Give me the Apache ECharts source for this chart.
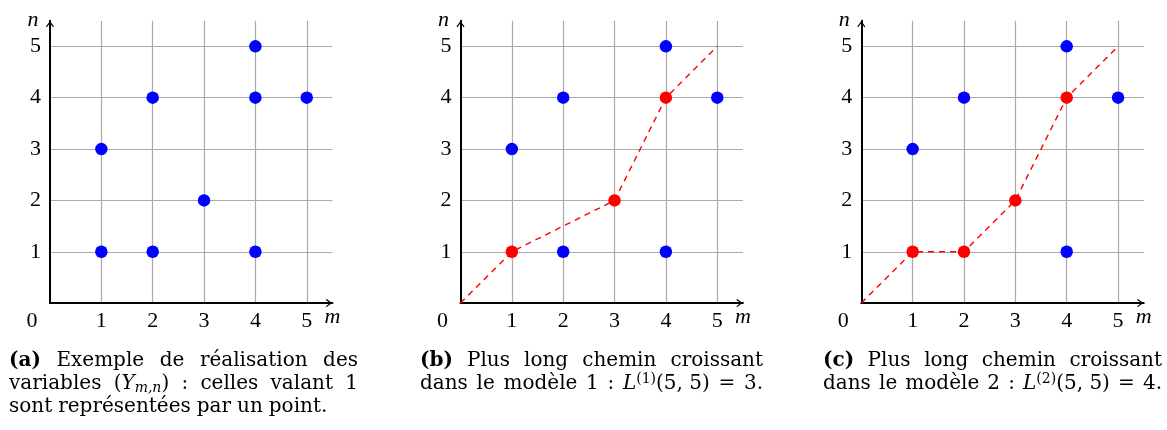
<!DOCTYPE html>
<html>
<head>
<meta charset="utf-8">
<script src="https://cdn.jsdelivr.net/npm/echarts@6/dist/echarts.min.js"></script>
<style>
html,body{margin:0;padding:0;background:#fff;}
#chart{width:1167px;height:430px;}
</style>
</head>
<body>
<div id="chart"></div>
<script>
// ---------- data ----------
const tickValues = [0, 1, 2, 3, 4, 5];
const axisMax = 5.5;
// points where Y_{m,n} = 1
const pointsM = [1, 1, 2, 2, 3, 4, 4, 4, 5];
const pointsN = [1, 3, 1, 4, 2, 1, 4, 5, 4];
// longest increasing path, model 1 (panel b)
const pathB_M = [0, 1, 3, 4, 5];
const pathB_N = [0, 1, 2, 4, 5];
// longest increasing path, model 2 (panel c)
const pathC_M = [0, 1, 2, 3, 4, 5];
const pathC_N = [0, 1, 1, 2, 4, 5];
const axisNameX = 'm';
const axisNameY = 'n';
// captions: lines of words; each word is a list of [style, text] tokens
const captionA = [
  {justify: true, words: [[['b', '(a)']], [['r', 'Exemple']], [['r', 'de']], [['r', 'réalisation']], [['r', 'des']]]},
  {justify: true, words: [[['r', 'variables']], [['r', '('], ['i', 'Y'], ['sub', 'm,n'], ['r', ')']], [['r', ':']], [['r', 'celles']], [['r', 'valant']], [['r', '1']]]},
  {justify: false, words: [[['r', 'sont']], [['r', 'représentées']], [['r', 'par']], [['r', 'un']], [['r', 'point.']]]}
];
const captionB = [
  {justify: true, words: [[['b', '(b)']], [['r', 'Plus']], [['r', 'long']], [['r', 'chemin']], [['r', 'croissant']]]},
  {justify: true, words: [[['r', 'dans']], [['r', 'le']], [['r', 'modèle']], [['r', '1']], [['r', ':']], [['i', 'L'], ['sup', '(1)'], ['r', '(5, 5)']], [['r', '=']], [['r', '3.']]]}
];
const captionC = [
  {justify: true, words: [[['b', '(c)']], [['r', 'Plus']], [['r', 'long']], [['r', 'chemin']], [['r', 'croissant']]]},
  {justify: true, words: [[['r', 'dans']], [['r', 'le']], [['r', 'modèle']], [['r', '2']], [['r', ':']], [['i', 'L'], ['sup', '(2)'], ['r', '(5, 5)']], [['r', '=']], [['r', '4.']]]}
];

// ---------- layout ----------
const FONT = '"Liberation Serif", "Times New Roman", serif';
const CAP_FONT = '"DejaVu Serif", serif';
const CAP_SIZE = 20, SCRIPT_SIZE = 14, CAP_LH = 23;
const TICK_SIZE = 22;
const UNIT = 51.35;
const AXIS_Y = 303.1;
const PANEL_LEFT = [50, 460.5, 861.3];
const CAPTION_LEFT = [9, 420, 823];
const CAPTION_WIDTH = [349, 343, 339];
const CAPTION_TOP = 349;
const BLUE = '#0000ff', RED = '#ff0000';

const capStyles = {
  r: {fontFamily: CAP_FONT, fontSize: CAP_SIZE, lineHeight: CAP_LH, color: '#000'},
  b: {fontFamily: CAP_FONT, fontSize: CAP_SIZE, lineHeight: CAP_LH, color: '#000', fontWeight: 'bold'},
  i: {fontFamily: CAP_FONT, fontSize: CAP_SIZE, lineHeight: CAP_LH, color: '#000', fontStyle: 'italic'},
  sub: {fontFamily: CAP_FONT, fontSize: SCRIPT_SIZE, lineHeight: SCRIPT_SIZE, color: '#000', fontStyle: 'italic', verticalAlign: 'bottom'},
  sup: {fontFamily: CAP_FONT, fontSize: SCRIPT_SIZE, lineHeight: SCRIPT_SIZE, color: '#000', verticalAlign: 'top'}
};
const mctx = document.createElement('canvas').getContext('2d');
function measure(styleName, text) {
  const s = capStyles[styleName];
  mctx.font = (s.fontStyle || 'normal') + ' ' + (s.fontWeight || 'normal') + ' ' + s.fontSize + 'px ' + s.fontFamily;
  return mctx.measureText(text).width;
}
let gapCount = 0;
function buildCaption(lines, width) {
  const out = [];
  lines.forEach(line => {
    const wordWidths = line.words.map(w => w.reduce((a, t) => a + measure(t[0], t[1]), 0));
    const total = wordWidths.reduce((a, b) => a + b, 0);
    const n = line.words.length;
    const gap = line.justify ? Math.max(4, (width - total) / (n - 1)) : CAP_SIZE * 0.3;
    const gName = 'g' + (gapCount++);
    capStyles[gName] = {fontFamily: CAP_FONT, fontSize: CAP_SIZE, lineHeight: CAP_LH, width: gap};
    const parts = line.words.map(w => w.map(t => '{' + t[0] + '|' + t[1] + '}').join(''));
    out.push(parts.join('{' + gName + '| }'));
  });
  return out.join('\n');
}
const captions = [buildCaption(captionA, CAPTION_WIDTH[0]), buildCaption(captionB, CAPTION_WIDTH[1]), buildCaption(captionC, CAPTION_WIDTH[2])];

const ARROW = 'path://M4.5,0 L9,6 L8,7 L4.5,2.2 L1,7 L0,6 Z';

function makeXAxis(i) {
  return {
    type: 'value', gridIndex: i, min: 0, max: axisMax, interval: 1,
    name: axisNameX, nameLocation: 'end', nameGap: 0,
    nameTextStyle: {fontFamily: FONT, fontStyle: 'italic', fontSize: 22, color: '#000', align: 'center', verticalAlign: 'top', padding: [3, 0, 0, 0]},
    axisLine: {show: true, onZero: false, lineStyle: {color: '#000', width: 2}, symbol: ['none', ARROW], symbolSize: [8, 7], symbolOffset: [0, -3.5]},
    axisTick: {show: false},
    splitLine: {show: true, showMinLine: false, showMaxLine: false, lineStyle: {color: '#aaaaaa', width: 1.2}},
    axisLabel: {
      fontFamily: FONT, fontSize: TICK_SIZE, color: '#000', margin: 7, showMaxLabel: false,
      formatter: v => (v === 0 ? '{z|0}' : (Number.isInteger(v) && tickValues.includes(v) ? String(v) : '')),
      rich: {z: {fontFamily: FONT, fontSize: TICK_SIZE, color: '#000', padding: [0, 36, 0, 0]}}
    }
  };
}
function makeYAxis(i) {
  return {
    type: 'value', gridIndex: i, min: 0, max: axisMax, interval: 1,
    name: axisNameY, nameLocation: 'end', nameGap: 0,
    nameTextStyle: {fontFamily: FONT, fontStyle: 'italic', fontSize: 22, color: '#000', align: 'center', verticalAlign: 'middle', padding: [0, 34, 0, 0]},
    axisLine: {show: true, onZero: false, lineStyle: {color: '#000', width: 2}, symbol: ['none', ARROW], symbolSize: [8, 7], symbolOffset: [0, -3.5]},
    axisTick: {show: false},
    splitLine: {show: true, showMinLine: false, showMaxLine: false, lineStyle: {color: '#aaaaaa', width: 1.2}},
    axisLabel: {
      fontFamily: FONT, fontSize: TICK_SIZE, color: '#000', margin: 9, showMaxLabel: false,
      formatter: v => (v !== 0 && Number.isInteger(v) && tickValues.includes(v) ? String(v) : '')
    }
  };
}

const allPoints = pointsM.map((m, k) => [m, pointsN[k]]);
function pathPairs(ms, ns) { return ms.map((m, k) => [m, ns[k]]); }
function inner(pairs) { return pairs.slice(1, pairs.length - 1); }
function notIn(points, pairs) { return points.filter(p => !pairs.some(q => q[0] === p[0] && q[1] === p[1])); }

function scatter(i, data, color) {
  return {type: 'scatter', xAxisIndex: i, yAxisIndex: i, data: data, symbolSize: 12.5, silent: true, z: 3,
    itemStyle: {color: color, opacity: 1}, emphasis: {disabled: true}};
}
function dashed(i, data) {
  return {type: 'line', xAxisIndex: i, yAxisIndex: i, data: data, symbol: 'none', silent: true, z: 2,
    lineStyle: {color: RED, width: 1.4, type: [6, 5]}, emphasis: {disabled: true}};
}

const pB = pathPairs(pathB_M, pathB_N);
const pC = pathPairs(pathC_M, pathC_N);

const option = {
  animation: false,
  backgroundColor: '#fff',
  title: captions.map((t, k) => ({
    text: t, left: CAPTION_LEFT[k], top: CAPTION_TOP, padding: 0,
    textStyle: {fontFamily: CAP_FONT, fontSize: CAP_SIZE, fontWeight: 'normal', lineHeight: CAP_LH, color: '#000', rich: capStyles}
  })),
  grid: PANEL_LEFT.map(l => ({left: l, top: AXIS_Y - axisMax * UNIT, width: axisMax * UNIT, height: axisMax * UNIT, containLabel: false})),
  xAxis: [0, 1, 2].map(makeXAxis),
  yAxis: [0, 1, 2].map(makeYAxis),
  series: [
    scatter(0, allPoints, BLUE),
    scatter(1, notIn(allPoints, pB), BLUE),
    dashed(1, pB),
    scatter(1, inner(pB), RED),
    scatter(2, notIn(allPoints, pC), BLUE),
    dashed(2, pC),
    scatter(2, inner(pC), RED)
  ]
};
const chart = echarts.init(document.getElementById('chart'), null, {renderer: 'canvas'});
chart.setOption(option);
</script>
</body>
</html>
